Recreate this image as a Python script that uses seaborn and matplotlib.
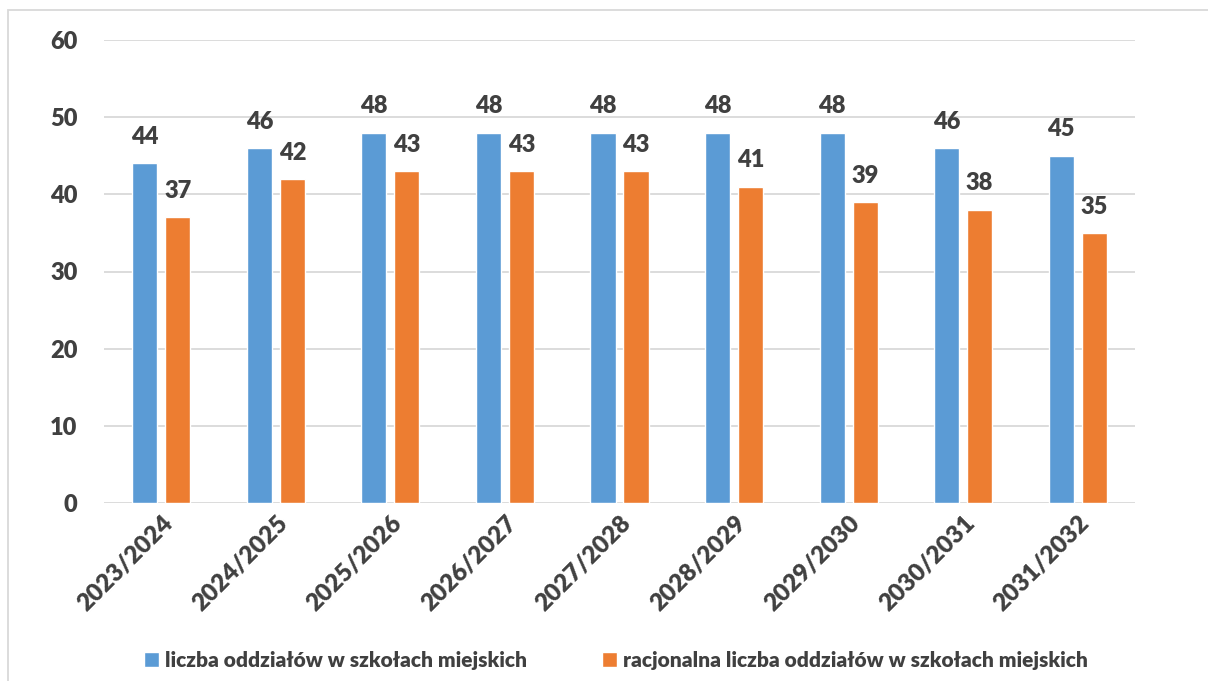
import pandas as pd
import numpy as np
import matplotlib
matplotlib.use("Agg")
import matplotlib.pyplot as plt
from matplotlib.patches import Rectangle
import seaborn as sns

# data
years = ["2023/2024", "2024/2025", "2025/2026", "2026/2027", "2027/2028",
         "2028/2029", "2029/2030", "2030/2031", "2031/2032"]
oddzialy = [44, 46, 48, 48, 48, 48, 48, 46, 45]
racjonalna = [37, 42, 43, 43, 43, 41, 39, 38, 35]
series_names = ["liczba oddziałów w szkołach miejskich",
                "racjonalna liczba oddziałów w szkołach miejskich"]
y_ticks = [0, 10, 20, 30, 40, 50, 60]

df = pd.DataFrame({"rok": years * 2,
                   "wartosc": oddzialy + racjonalna,
                   "seria": [series_names[0]] * len(years) + [series_names[1]] * len(years)})

sns.set_style("white")
plt.rcParams['font.family'] = ['Lato', 'DejaVu Sans']
text_col = "#404040"
W = "heavy"

fig = plt.figure(figsize=(12.08, 6.81), dpi=100)
ax = fig.add_axes([104 / 1208, 1 - 503 / 681, (1135 - 104) / 1208, (503 - 40) / 681])

palette = {series_names[0]: "#5B9BD5", series_names[1]: "#ED7D31"}
sns.barplot(data=df, x="rok", y="wartosc", hue="seria", palette=palette,
            width=0.576, gap=0.24, saturation=1, ax=ax, legend=True)

# data labels
for cont in ax.containers:
    for bar in cont:
        h = bar.get_height()
        ax.annotate(f"{h:.0f}", (bar.get_x() + bar.get_width() / 2, h),
                    xytext=(0, 11), textcoords="offset points",
                    ha="center", va="bottom", fontsize=17, fontweight=W,
                    color=text_col)

ax.set_ylim(0, 60)
ax.set_yticks(y_ticks)
ax.set_xlim(-0.5, len(years) - 0.5)
ax.yaxis.grid(True, color="#D9D9D9", linewidth=1.3)
ax.set_axisbelow(True)
for s in ax.spines.values():
    s.set_visible(False)
ax.set_xlabel("")
ax.set_ylabel("")
ax.tick_params(axis="y", length=0, pad=19, labelsize=17, labelcolor=text_col)
ax.tick_params(axis="x", length=0, pad=6, labelsize=17.5, labelcolor=text_col)
for lab in ax.get_yticklabels():
    lab.set_fontweight(W)
for lab in ax.get_xticklabels():
    lab.set_fontweight(W)
    lab.set_rotation(45)
    lab.set_ha("right")
    lab.set_rotation_mode("anchor")

leg = ax.legend(loc="center", bbox_to_anchor=(616 / 1208, 1 - 660 / 681),
                bbox_transform=fig.transFigure, ncol=2, frameon=False,
                handlelength=0.7, handleheight=0.7, handletextpad=0.3,
                columnspacing=3.6, prop={"size": 15, "weight": W})
for t in leg.get_texts():
    t.set_color(text_col)

# outer frame of the chart area
fig.patches.append(Rectangle((8 / 1208, -0.05), 1.2, 1 - 10 / 681 + 0.05,
                             transform=fig.transFigure, fill=False,
                             edgecolor="#D9D9D9", linewidth=1.3))

fig.savefig("out.png", dpi=100)
